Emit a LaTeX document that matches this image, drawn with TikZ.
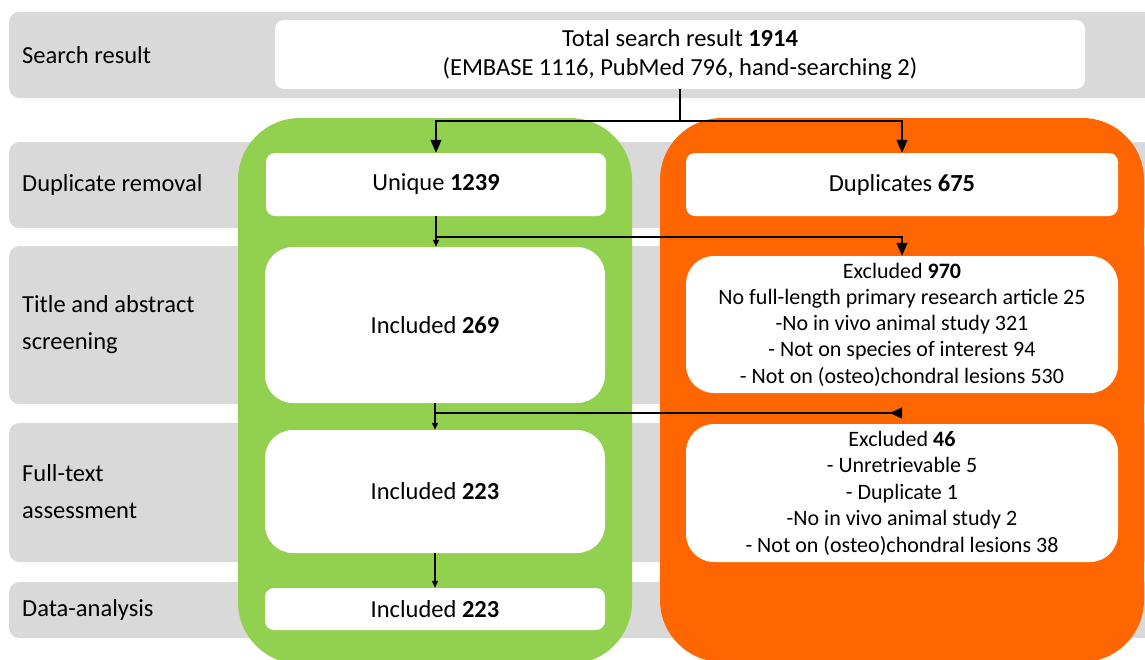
\documentclass[tikz,border=0pt]{standalone}
\usepackage{fontspec}
\setmainfont{Carlito}
\usetikzlibrary{arrows.meta}
\definecolor{band}{HTML}{D9D9D9}
\definecolor{grn}{HTML}{92D050}
\definecolor{org}{HTML}{FF6600}
\tikzset{
  bandbox/.style={fill=band, draw=none, rounded corners=10pt, inner sep=0pt, anchor=west},
  colblock/.style={draw=none, rounded corners=62pt, inner sep=0pt},
  wbox/.style={fill=white, draw=none, inner sep=0pt, rounded corners=9pt},
  wboxr/.style={fill=white, draw=none, inner sep=0pt, rounded corners=28pt},
  lbl/.style={anchor=west, align=left, inner sep=0pt, font=\fontsize{24.5}{37}\selectfont},
  txt/.style={align=center, inner sep=0pt, font=\fontsize{24.5}{25.5}\selectfont},
  extxt/.style={align=center, inner sep=0pt, font=\fontsize{22}{26.2}\selectfont},
  conn/.style={draw=black, line width=1.2pt},
  bigtip/.style={-{Triangle[width=11pt,length=13pt]}},
  smalltip/.style={-{Triangle[width=6pt,length=7pt]}},
}
\begin{document}
\begin{tikzpicture}[x=1pt,y=-1pt]
\useasboundingbox (0,0) rectangle (1145,659);
% bands
\node[bandbox, minimum width=1200pt, minimum height=86pt] (b1) at (9,55) {};
\node[bandbox, minimum width=1200pt, minimum height=86pt] (b2) at (9,185) {};
\node[bandbox, minimum width=1200pt, minimum height=158pt] (b3) at (9,325) {};
\node[bandbox, minimum width=1200pt, minimum height=139pt] (b4) at (9,492.5) {};
\node[bandbox, minimum width=1200pt, minimum height=56pt] (b5) at (9,610) {};
% column blocks
\node[colblock, fill=grn, minimum width=394pt, minimum height=546pt] (green) at (435,391) {};
\node[colblock, fill=org, minimum width=484pt, minimum height=544pt] (orange) at (902,390) {};
% white boxes
\node[wbox, minimum width=810pt, minimum height=69pt] (top) at (680,54.5) {};
\node[wbox, minimum width=340pt, minimum height=63pt] (unique) at (436,184.5) {};
\node[wboxr, minimum width=340pt, minimum height=156pt] (inca) at (435,325) {};
\node[wboxr, minimum width=340pt, minimum height=123pt] (incb) at (435,491.5) {};
\node[wbox, minimum width=340pt, minimum height=42pt] (incc) at (435,609) {};
\node[wbox, minimum width=432pt, minimum height=63pt] (dup) at (902,184.5) {};
\node[wboxr, minimum width=432pt, minimum height=137pt] (exa) at (902,324.5) {};
\node[wboxr, minimum width=432pt, minimum height=138pt] (exb) at (902,493) {};
% connectors
\coordinate (j1) at (680,121);
\coordinate (j2) at (436,237);
\coordinate (j3) at (435,413);
\coordinate (j3e) at (902,413);
\draw[conn] (top.south) -- (j1);
\draw[conn, bigtip] (j1) -| (unique.north);
\draw[conn, bigtip] (j1) -| (dup.north);
\draw[conn] (unique.south) -- (j2);
\draw[conn, smalltip] (j2) -- (j2 |- inca.north);
\draw[conn, bigtip] (j2) -| (exa.north);
\draw[conn] (inca.south) -- (j3);
\draw[conn, smalltip] (j3) -- (j3 |- incb.north);
\draw[conn, -{Triangle[width=11pt,length=12pt,reversed]}] (j3) -- (j3e);
\draw[conn, smalltip] (incb.south) -- (incc.north);
% texts
\node[lbl] (l1) at (22,55) {Search result};
\node[lbl] (l2) at (22,185) {Duplicate removal};
\node[lbl] (l3) at (22,325) {Title and abstract\\screening};
\node[lbl] (l4) at (22,492) {Full-text\\assessment};
\node[lbl] (l5) at (22,610) {Data-analysis};
\node[txt, font=\fontsize{24.5}{29}\selectfont] at (top) {Total search result \textbf{1914}\\(EMBASE 1116, PubMed 796, hand-searching 2)};
\node[txt] at (unique) {Unique \textbf{1239}};
\node[txt] at (dup) {Duplicates \textbf{675}};
\node[txt] at (inca) {Included \textbf{269}};
\node[txt] at (incb) {Included \textbf{223}};
\node[txt] at (incc) {Included \textbf{223}};
\node[extxt] at (exa) {Excluded \textbf{970}\\No full-length primary research article 25\\-No in vivo animal study 321\\- Not on species of interest 94\\- Not on (osteo)chondral lesions 530};
\node[extxt, font=\fontsize{22}{26.5}\selectfont] at (exb) {Excluded \textbf{46}\\- Unretrievable 5\\- Duplicate 1\\-No in vivo animal study 2\\- Not on (osteo)chondral lesions 38};
\end{tikzpicture}
\end{document}
